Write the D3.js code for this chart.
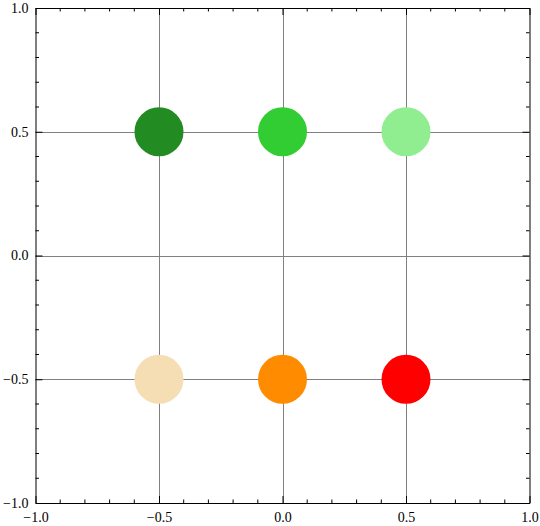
<!DOCTYPE html>
<html>
<head>
<meta charset="utf-8">
<script src="https://cdn.jsdelivr.net/npm/d3@7"></script>
<style>
  body { margin: 0; background: #fff; }
  svg { display: block; }
</style>
</head>
<body>
<script>
const width = 540;
const height = 526;
const margin = {top: 8, right: 10.5, bottom: 23, left: 35.5};

// points (x, y, colour)
const xs = [-0.5, 0, 0.5, -0.5, 0, 0.5];
const ys = [0.5, 0.5, 0.5, -0.5, -0.5, -0.5];
const pointColors = ["#228B22", "#32CD32", "#90EE90", "#F5DEB3", "#FF8C00", "#FF0000"];

const majorTicks = [-1, -0.5, 0, 0.5, 1];
const gridTicks = [-0.5, 0, 0.5];
const minorTicks = d3.range(-10, 11).map(d => d / 10).filter(d => !majorTicks.some(m => Math.abs(m - d) < 1e-9));

const fmt = d => d3.format(".1f")(d).replace("-", "\u2212");

const svg = d3.select("body").append("svg")
    .attr("width", width)
    .attr("height", height);

const x = d3.scaleLinear().domain([-1, 1]).range([margin.left, width - margin.right]);
const y = d3.scaleLinear().domain([-1, 1]).range([height - margin.bottom, margin.top]);

// grid lines
svg.append("g")
    .selectAll("line")
    .data(gridTicks)
  .join("line")
    .attr("x1", d => Math.round(x(d)) + 0.5)
    .attr("x2", d => Math.round(x(d)) + 0.5)
    .attr("y1", y(1))
    .attr("y2", y(-1))
    .attr("stroke", "#808080");

svg.append("g")
    .selectAll("line")
    .data(gridTicks)
  .join("line")
    .attr("y1", d => Math.round(y(d)) + 0.5)
    .attr("y2", d => Math.round(y(d)) + 0.5)
    .attr("x1", x(-1))
    .attr("x2", x(1))
    .attr("stroke", "#808080");

// points
svg.append("g")
    .selectAll("circle")
    .data(xs)
  .join("circle")
    .attr("cx", d => x(d))
    .attr("cy", (d, i) => y(ys[i]))
    .attr("r", 24.5)
    .attr("fill", (d, i) => pointColors[i]);

// frame: labels on bottom/left, ticks on all four sides
function frameAxis(axisFn, scale, labelled, transform) {
  const horiz = axisFn === d3.axisBottom || axisFn === d3.axisTop;
  const g = svg.append("g").attr("transform", transform);
  g.call(axisFn(scale).tickValues(majorTicks).tickSizeInner(-7).tickSizeOuter(0).tickPadding(labelled && horiz ? 9 : 7)
      .tickFormat(labelled ? fmt : ""));
  g.attr("font-family", "'Liberation Serif', 'Times New Roman', serif").attr("font-size", 14);
  g.selectAll(".tick text").attr("fill", "#000");
  g.selectAll(".domain").attr("stroke", "#000");
  g.selectAll(".tick line").attr("stroke", "#000");

  // minor ticks
  const s = (axisFn === d3.axisBottom || axisFn === d3.axisRight) ? -1 : 1;
  g.selectAll(".minor")
      .data(minorTicks)
    .join("line")
      .attr("class", "minor")
      .attr("stroke", "#000")
      .attr(horiz ? "x1" : "y1", d => scale(d))
      .attr(horiz ? "x2" : "y2", d => scale(d))
      .attr(horiz ? "y1" : "x1", 0)
      .attr(horiz ? "y2" : "x2", s * 3.5);
  return g;
}

frameAxis(d3.axisBottom, x, true, `translate(0,${y(-1)})`);
frameAxis(d3.axisTop, x, false, `translate(0,${y(1)})`);
frameAxis(d3.axisLeft, y, true, `translate(${x(-1)},0)`);
frameAxis(d3.axisRight, y, false, `translate(${x(1)},0)`);
</script>
</body>
</html>
